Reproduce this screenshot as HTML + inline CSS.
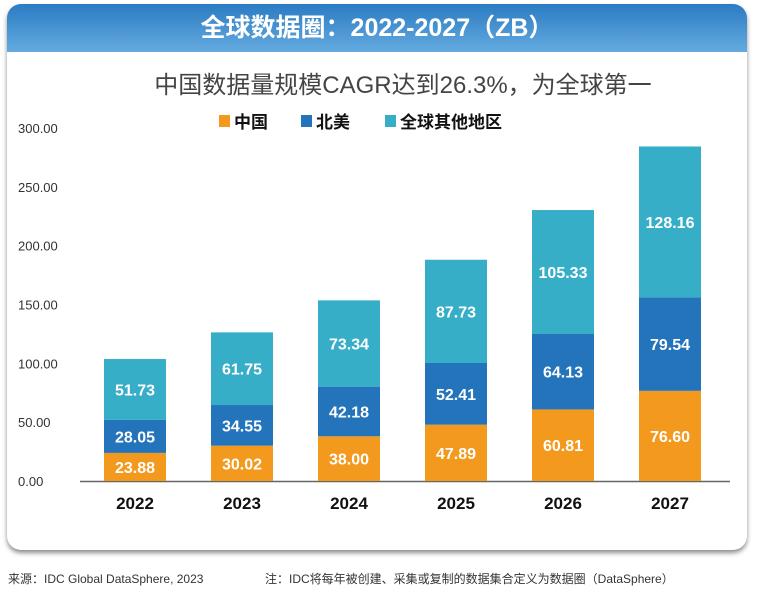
<!DOCTYPE html>
<html><head><meta charset="utf-8"><style>
body{margin:0;width:767px;height:593px;background:#fff;font-family:"Liberation Sans","Noto Sans CJK SC",sans-serif;overflow:hidden;position:relative}
#card{position:absolute;left:7px;top:4px;width:740px;height:546px;border-radius:14px;background:#fff;box-shadow:0 3px 5px rgba(0,0,0,.45);overflow:hidden}
#hdr{height:48px;background:linear-gradient(#2b7cc3,#64aadf);color:#fff;font-weight:bold;font-size:25px;text-align:center;line-height:48px}
.src{position:absolute;top:570px;font-size:12px;color:#333}
</style></head><body>
<div id="card">
<div id="hdr">全球数据圈：2022-2027（ZB）</div>
</div>
<svg id="chart" width="767" height="593" style="position:absolute;left:0;top:0">
<text x="403" y="93" text-anchor="middle" font-size="24" fill="#444" font-family="Liberation Sans,Noto Sans CJK SC,sans-serif">中国数据量规模CAGR达到26.3%，为全球第一</text>
<g id="legend"></g>
<g id="axis"></g><g id="bars"></g>
</svg>
<div class="src" style="left:8px">来源：IDC Global DataSphere, 2023</div>
<div class="src" style="left:265px">注：IDC将每年被创建、采集或复制的数据集合定义为数据圈（DataSphere）</div>
<script>
const categories=["2022","2023","2024","2025","2026","2027"];
const china=[23.88,30.02,38.00,47.89,60.81,76.60];
const northAmerica=[28.05,34.55,42.18,52.41,64.13,79.54];
const rest=[51.73,61.75,73.34,87.73,105.33,128.16];
const ticks=[0,50,100,150,200,250,300];
const seriesNames=["中国","北美","全球其他地区"];
const colors=["#f39a1e","#2474bb","#36aec7"];
const NS="http://www.w3.org/2000/svg";
const y0=481,yTop=128,maxV=300;
const y=v=>y0-(v/maxV)*(y0-yTop);
const x=i=>135+i*107;
const bw=62;
function mk(t,a,p){const e=document.createElementNS(NS,t);for(const k in a)e.setAttribute(k,a[k]);p.appendChild(e);return e;}
const ax=document.getElementById('axis'),bars=document.getElementById('bars'),lg=document.getElementById('legend');
ticks.forEach(t=>{const e=mk('text',{x:18,y:y(t)+5,'font-size':13,fill:'#333'},ax);e.textContent=t.toFixed(2);

});
const al=mk('line',{x1:80,x2:730,y1:y0+0.5,y2:y0+0.5,stroke:'#666','stroke-width':1.5},ax);


const series=[china,northAmerica,rest];
categories.forEach((c,i)=>{let base=0;
 series.forEach((s,k)=>{const v=s[i];
  const r=mk('rect',{x:x(i)-bw/2,y:y(base+v),width:bw,height:y(base)-y(base+v),fill:colors[k]},bars);
  
  
  const t=mk('text',{x:x(i),y:(y(base)+y(base+v))/2+6,'text-anchor':'middle','font-size':16,'font-weight':'bold',fill:'#fff'},bars);
  t.textContent=v.toFixed(2);
  
  
  base+=v;});
 const l=mk('text',{x:x(i),y:509,'text-anchor':'middle','font-size':17,'font-weight':'bold',fill:'#111'},ax);
 l.textContent=c;
 
 
});
const lx=[219,301,385];
seriesNames.forEach((n,k)=>{mk('rect',{x:lx[k],y:115,width:11,height:12,fill:colors[k]},lg);
 const t=mk('text',{x:lx[k]+15,y:128,'font-size':17,'font-weight':'bold',fill:'#111'},lg);t.textContent=n;
 
 });
</script>
</body></html>
